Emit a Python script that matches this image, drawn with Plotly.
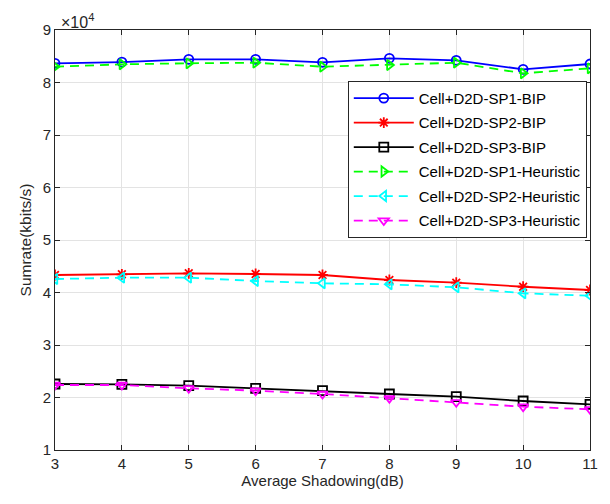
import plotly.graph_objects as go

# Average shadowing values (dB)
shadowing_db = [3, 4, 5, 6, 7, 8, 9, 10, 11]

# Sum rate (kbits/s) for each scheme
sp1_bip = [83660, 83900, 84420, 84420, 83850, 84610, 84230, 82510, 83520]
sp2_bip = [43330, 43470, 43660, 43520, 43330, 42380, 41870, 41100, 40480]
sp3_bip = [22570, 22510, 22250, 21750, 21300, 20670, 20150, 19330, 18700]
sp1_heur = [83010, 83470, 83660, 83770, 83010, 83330, 83770, 81750, 82700]
sp2_heur = [42570, 42820, 42820, 42190, 41750, 41560, 40990, 39850, 39390]
sp3_heur = [22380, 22380, 21750, 21300, 20670, 19850, 19090, 18250, 17750]

y_ticks = [10000, 20000, 30000, 40000, 50000, 60000, 70000, 80000, 90000]
y_tick_text = ["1", "2", "3", "4", "5", "6", "7", "8", "9"]
x_ticks = [3, 4, 5, 6, 7, 8, 9, 10, 11]

FONT = "Liberation Sans, Arial, Helvetica"
INK = "#262626"

series = [
    ("Cell+D2D-SP1-BIP", sp1_bip, "#0000FF", "circle-open", "solid"),
    ("Cell+D2D-SP2-BIP", sp2_bip, "#FF0000", "asterisk-open", "solid"),
    ("Cell+D2D-SP3-BIP", sp3_bip, "#000000", "square-open", "solid"),
    ("Cell+D2D-SP1-Heuristic", sp1_heur, "#00FF00", "triangle-right-open", "9px,6px"),
    ("Cell+D2D-SP2-Heuristic", sp2_heur, "#00FFFF", "triangle-left-open", "9px,6px"),
    ("Cell+D2D-SP3-Heuristic", sp3_heur, "#FF00FF", "triangle-down-open", "9px,6px"),
]

fig = go.Figure()
for i, (name, vals, color, symbol, dash) in enumerate(series):
    fig.add_trace(go.Scatter(
        x=shadowing_db, y=vals, name=name, mode="lines+markers",
        legendgroup=f"g{i}",
        line=dict(color=color, width=1.8, dash=dash),
        marker=dict(symbol=symbol, size=9, color=color,
                    line=dict(color=color, width=1.8)),
    ))

axis_common = dict(
    showline=True, linecolor=INK, linewidth=1, mirror="ticks",
    ticks="inside", ticklen=5, tickcolor=INK,
    showgrid=True, gridcolor="#E3E3E3", gridwidth=1,
    zeroline=False,
    tickfont=dict(family=FONT, size=15, color=INK),
)

fig.update_xaxes(
    range=[3, 11], tickvals=x_ticks,
    title=dict(text="Average Shadowing(dB)", standoff=2,
               font=dict(family=FONT, size=15, color=INK)),
    **axis_common,
)
fig.update_yaxes(
    range=[10000, 90000], tickvals=y_ticks, ticktext=y_tick_text,
    title=dict(text="Sumrate(kbits/s)", standoff=7,
               font=dict(family=FONT, size=15.5, color=INK)),
    **axis_common,
)

fig.add_annotation(
    xref="paper", yref="paper", x=0, y=1, xanchor="left", yanchor="bottom",
    text="×10<sup>4</sup>", showarrow=False, xshift=4, yshift=-3,
    font=dict(family=FONT, size=16, color=INK),
)

fig.update_layout(
    width=610, height=504,
    margin=dict(l=55, r=17, t=30, b=54),
    plot_bgcolor="white", paper_bgcolor="white",
    legend=dict(
        x=0.994, y=0.879, xanchor="right", yanchor="top",
        bgcolor="white", bordercolor=INK, borderwidth=1,
        font=dict(family=FONT, size=15, color="#000000"),
        itemwidth=60, tracegroupgap=2,
    ),
    showlegend=True,
)

fig.write_html("out.html")
